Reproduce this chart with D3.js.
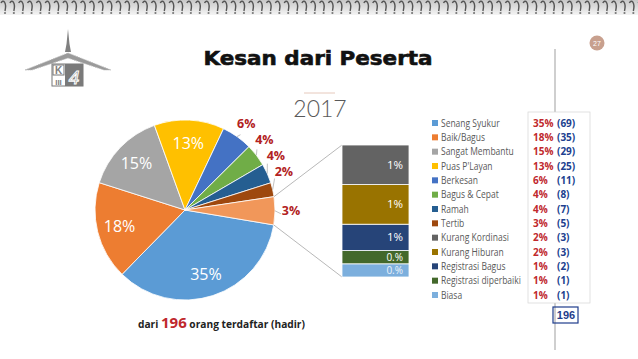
<!DOCTYPE html>
<html>
<head>
<meta charset="utf-8">
<script src="https://cdn.jsdelivr.net/npm/d3@7"></script>
<style>
  body { margin: 0; background: #fff; }
  svg { display: block; }
</style>
</head>
<body>
<div id="chart"></div>
<script>
// data
const categories = ["Senang Syukur", "Baik/Bagus", "Sangat Membantu", "Puas P'Layan", "Berkesan",
    "Bagus & Cepat", "Ramah", "Tertib", "Kurang Kordinasi", "Kurang Hiburan",
    "Registrasi Bagus", "Registrasi diperbaiki", "Biasa"];
const counts = [69, 35, 29, 25, 11, 8, 7, 5, 3, 3, 2, 1, 1];
const pctLabels = ["35%", "18%", "15%", "13%", "6%", "4%", "4%", "3%", "2%", "2%", "1%", "1%", "1%"];
const colors = ["#5B9BD5", "#ED7D31", "#A5A5A5", "#FFC000", "#4472C4", "#70AD47", "#255E91",
    "#9E480E", "#636363", "#997300", "#264478", "#43682B", "#7CAFDD"];
const otherColor = "#F1975A";
const pieCount = 8;                       // slices before "other"
const pieLabels = ["35%", "18%", "15%", "13%", "6%", "4%", "4%", "2%", "3%"];
const stackLabels = ["1%", "1%", "1%", "0.%", "0.%"];
const total = 196;

const width = 638, height = 359;
const svg = d3.select('#chart').append('svg')
    .attr('width', width).attr('height', height);

// ---- spiral binding along the top
const defs = svg.append('defs');
const grad = defs.append('linearGradient').attr('id', 'band').attr('x1', 0).attr('y1', 0).attr('x2', 0).attr('y2', 1);
grad.append('stop').attr('offset', 0).attr('stop-color', '#c8c8c8');
grad.append('stop').attr('offset', 1).attr('stop-color', '#f4f4f4');
svg.append('rect').attr('x', 0).attr('y', 0).attr('width', width).attr('height', 15).attr('fill', 'url(#band)');
const rings = d3.range(0, width, 8.85);
svg.selectAll('.ring').data(rings).enter().append('path')
    .attr('d', x => `M${x + 1},3 C${x + 3},-1 ${x + 7},2 ${x + 5},11`)
    .attr('fill', 'none').attr('stroke', '#555').attr('stroke-width', 1.4);
svg.selectAll('.hole').data(rings).enter().append('circle')
    .attr('cx', x => x + 5).attr('cy', 13).attr('r', 1.1).attr('fill', '#777');

// ---- logo
const logo = svg.append('g').attr('fill', '#808080');
logo.append('path').attr('d', 'M68,29 L69.5,44 L71,52 L65,52 L66.5,44 Z');
logo.append('path').attr('d', 'M25,70 L68,53 L111,70 L104,70 L68,58 L32,70 Z')
    .attr('fill', '#9a9a9a').attr('stroke', '#bbb').attr('stroke-dasharray', '1,1');
logo.append('rect').attr('x', 52).attr('y', 64).attr('width', 31).attr('height', 22).attr('fill', '#fff').attr('stroke', '#777');
logo.append('rect').attr('x', 65).attr('y', 64).attr('width', 18).attr('height', 22).attr('fill', '#7a7a7a');
logo.append('rect').attr('x', 53).attr('y', 65).attr('width', 11).attr('height', 10).attr('fill', 'none').attr('stroke', '#777');
logo.append('text').attr('x', 58.5).attr('y', 74).attr('text-anchor', 'middle')
    .style('font', 'bold 10px "Liberation Sans"').text('K');
logo.append('text').attr('x', 58.5).attr('y', 85).attr('text-anchor', 'middle')
    .style('font', 'bold 8px "Liberation Sans"').text('III');
logo.append('text').attr('x', 74).attr('y', 84).attr('text-anchor', 'middle').attr('fill', 'none')
    .attr('stroke', '#fff').attr('stroke-width', 1)
    .style('font', 'italic 19px "Liberation Sans"').text('4');

// ---- page number
svg.append('circle').attr('cx', 597).attr('cy', 43).attr('r', 7.5).attr('fill', '#C8A08E');
svg.append('text').attr('x', 597).attr('y', 45.5).attr('text-anchor', 'middle').attr('fill', '#fff')
    .style('font', '7px "Liberation Sans"').text('27');

// ---- titles
svg.append('text').attr('x', 318).attr('y', 65).attr('text-anchor', 'middle')
    .attr('textLength', 229).attr('lengthAdjust', 'spacingAndGlyphs')
    .style('font', 'bold 19px "DejaVu Sans"').attr('fill', '#111')
    .attr('stroke', '#111').attr('stroke-width', 0.6).text('Kesan dari Peserta');
svg.append('line').attr('x1', 304).attr('x2', 335).attr('y1', 93).attr('y2', 93)
    .attr('stroke', '#E6C9BC').attr('stroke-width', 1);
svg.append('text').attr('x', 320).attr('y', 117).attr('text-anchor', 'middle')
    .style('font', '300 23px Lato').attr('fill', '#595959').text('2017');

// ---- pie of pie
const cx = 185, cy = 210, r = 90;
const otherCounts = counts.slice(pieCount);
const pieValues = counts.slice(0, pieCount).concat([d3.sum(otherCounts)]);
const pieColors = colors.slice(0, pieCount).concat([otherColor]);
const deg = Math.PI / 180;
// rotate so the "other" slice sits at 3 o'clock
const otherSpan = pieValues[pieCount] / d3.sum(pieValues) * 2 * Math.PI;
const pie = d3.pie().sort(null).value(d => d)
    .startAngle(90.5 * deg + otherSpan / 2)
    .endAngle(90.5 * deg + otherSpan / 2 + 2 * Math.PI);
const arcs = pie(pieValues);
const arc = d3.arc().innerRadius(0).outerRadius(r);
const pt = (a, rad) => [cx + rad * Math.sin(a), cy - rad * Math.cos(a)];

const pieG = svg.append('g').attr('transform', `translate(${cx},${cy})`);
pieG.selectAll('.slice').data(arcs).enter().append('path')
    .attr('d', arc).attr('fill', (d, i) => pieColors[i])
    .attr('stroke', '#fff').attr('stroke-width', 0.8);

// inside labels for the big slices, outside labels for the small ones
const inner = d3.arc().innerRadius(r * 0.75).outerRadius(r * 0.75);
const shift = { 5: -4, 6: -7, 7: -8 };   // degrees, keeps crowded labels apart
arcs.forEach((d, i) => {
    const mid = (d.startAngle + d.endAngle) / 2;
    if (i < 4) {
        const c = inner.centroid(d);
        pieG.append('text').attr('x', c[0]).attr('y', c[1] + 6).attr('text-anchor', 'middle')
            .attr('fill', '#fff').style('font', '16px "Open Sans"').text(pieLabels[i]);
    } else {
        const a = mid + (shift[i] || 0) * deg;
        const p = pt(a, 106);
        const e = pt(mid, r);
        const q = pt(a, 96);
        svg.append('line').attr('x1', e[0]).attr('y1', e[1]).attr('x2', q[0]).attr('y2', q[1] + 3)
            .attr('stroke', '#A6A6A6').attr('stroke-width', 0.7);
        svg.append('text').attr('x', p[0]).attr('y', p[1] + 4.5).attr('text-anchor', 'middle')
            .attr('fill', '#B22222').style('font', 'bold 12.5px "Open Sans"').text(pieLabels[i]);
    }
});

// stacked bar for the "other" slice
const bx = 342, bw = 67, bTop = 145, bBot = 277;
const yStack = d3.scaleLinear().domain([0, d3.sum(otherCounts)]).range([bBot, bTop]);
const stackData = otherCounts.map((v, i) => ({ v, i })).reverse();
let acc = 0;
stackData.forEach(d => { d.y0 = acc; acc += d.v; d.y1 = acc; });
const otherArc = arcs[pieCount];
const pA = pt(otherArc.startAngle, r), pB = pt(otherArc.endAngle, r);
svg.append('line').attr('x1', pA[0]).attr('y1', pA[1]).attr('x2', bx).attr('y2', bTop)
    .attr('stroke', '#A6A6A6').attr('stroke-width', 0.8);
svg.append('line').attr('x1', pB[0]).attr('y1', pB[1]).attr('x2', bx).attr('y2', bBot)
    .attr('stroke', '#A6A6A6').attr('stroke-width', 0.8);
svg.selectAll('.seg').data(stackData).enter().append('rect')
    .attr('x', bx).attr('width', bw)
    .attr('y', d => yStack(d.y1)).attr('height', d => yStack(d.y0) - yStack(d.y1))
    .attr('fill', d => colors[pieCount + d.i]).attr('stroke', '#fff').attr('stroke-width', 0.8);
svg.selectAll('.seglabel').data(stackData).enter().append('text')
    .attr('x', bx + bw - 6)
    .attr('y', d => (yStack(d.y0) + yStack(d.y1)) / 2 + (d.v > 1 ? 4 : 3.5))
    .attr('text-anchor', 'end')
    .attr('fill', d => d.i === otherCounts.length - 1 ? '#eef4fb' : '#fff')
    .style('font', d => d.v > 1 ? '11.5px "Open Sans"' : '10px "Open Sans"')
    .text(d => stackLabels[d.i]);

// ---- legend + count table
svg.append('line').attr('x1', 555).attr('x2', 555).attr('y1', 49).attr('y2', 350)
    .attr('stroke', '#BFBFBF').attr('stroke-width', 1.5);
svg.append('rect').attr('x', 528).attr('y', 112).attr('width', 62).attr('height', 191)
    .attr('fill', '#fff').attr('stroke', '#D5D5D5').attr('stroke-width', 0.7);

const rowY = d3.scaleLinear().domain([0, categories.length - 1]).range([123, 295]);
const leg = svg.append('g');
categories.forEach((c, i) => {
    const y = rowY(i);
    leg.append('rect').attr('x', 432).attr('y', y - 3).attr('width', 6).attr('height', 6).attr('fill', colors[i]);
    // narrow the legend text a bit, like the Calibri on the slide
    leg.append('text').attr('transform', `translate(441,${y + 3.5}) scale(0.85,1)`)
        .attr('fill', '#595959').style('font', '10px "Open Sans"').text(c);
    leg.append('text').attr('x', 533).attr('y', y + 3.5).attr('fill', '#C0282D')
        .style('font', 'bold 10px "Open Sans"').text(pctLabels[i]);
    leg.append('text').attr('x', 557).attr('y', y + 3.5).attr('fill', '#203F8F')
        .style('font', 'bold 10px "Open Sans"').text(`(${counts[i]})`);
});

// ---- footer
const foot = svg.append('text').attr('x', 138).attr('y', 328)
    .style('font', 'bold 10.2px "Open Sans"').attr('fill', '#222');
foot.append('tspan').text('dari ');
foot.append('tspan').attr('fill', '#C0282D').style('font-size', '15px').text(total);
foot.append('tspan').text(' orang terdaftar (hadir)');

svg.append('rect').attr('x', 553).attr('y', 307).attr('width', 25).attr('height', 16)
    .attr('fill', 'none').attr('stroke', '#1F3D8C').attr('stroke-width', 1.2);
svg.append('text').attr('x', 566).attr('y', 319).attr('text-anchor', 'middle')
    .attr('fill', '#1F3D8C').style('font', 'bold 11px "Liberation Sans"').text(total);
</script>
</body>
</html>
